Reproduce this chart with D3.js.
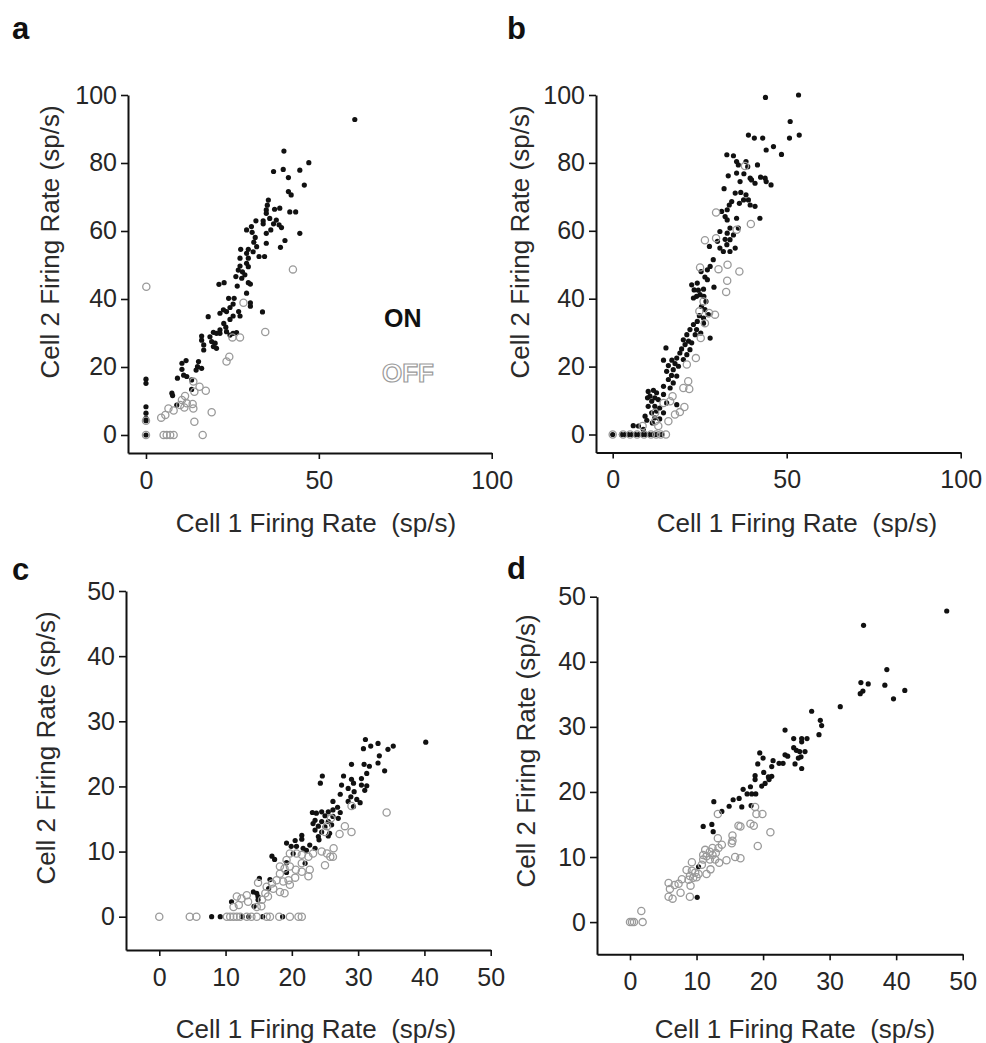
<!DOCTYPE html>
<html><head><meta charset="utf-8">
<script src="https://cdn.jsdelivr.net/npm/d3@7"></script>
<style>body{margin:0;background:#fff} svg{display:block}</style>
</head><body><svg id="chart" width="986" height="1043"></svg>
<script>
// ---------- data (Cell 1 rate, Cell 2 rate) ----------
const aOn = [[60.4,92.8],[39.9,83.5],[47.1,80.1],[36.9,77.5],[39.7,78.1],[44.5,77.9],[41.2,75.7],[45.8,73.5],[41.2,71.6],[42.0,70.6],[35.4,69.1],[35.1,67.6],[34.8,66.2],[34.8,65.2],[37.2,66.4],[38.7,66.7],[41.6,65.6],[43.3,65.6],[31.8,63.0],[33.9,63.0],[35.8,63.7],[37.7,63.2],[36.9,62.1],[38.5,61.8],[39.2,61.0],[33.9,62.1],[36.1,60.3],[34.8,59.3],[29.1,60.3],[30.5,61.3],[30.7,59.6],[44.5,59.3],[40.2,57.2],[38.9,55.2],[34.8,56.4],[31.6,58.1],[31.2,56.7],[32.0,55.4],[29.6,54.6],[27.4,54.6],[29.1,53.4],[31.0,53.9],[32.7,52.5],[34.3,52.5],[27.2,52.0],[29.6,52.0],[29.1,50.5],[27.2,49.7],[29.6,49.5],[26.7,48.5],[27.9,48.0],[28.6,47.1],[26.0,46.6],[27.7,46.1],[29.6,44.8],[30.2,44.4],[21.1,44.3],[22.6,44.8],[26.4,43.8],[29.1,41.7],[30.2,38.9],[30.2,37.9],[33.7,36.2],[23.9,40.2],[25.5,40.2],[25.2,38.5],[24.3,37.5],[23.3,36.3],[21.4,35.8],[22.4,36.8],[26.8,36.3],[25.2,35.0],[27.2,35.0],[24.3,34.0],[18.0,34.8],[22.5,32.8],[23.1,31.7],[21.4,30.9],[19.5,30.2],[20.4,29.9],[21.4,29.9],[23.3,30.4],[25.2,29.9],[26.2,30.1],[24.3,29.4],[16.1,29.1],[16.1,27.9],[18.5,28.9],[19.0,27.5],[20.0,27.0],[16.7,26.5],[19.5,26.0],[20.4,25.5],[16.7,25.0],[11.6,21.9],[10.4,21.1],[15.2,21.6],[10.4,19.3],[10.9,17.6],[11.8,17.2],[14.9,20.1],[16.1,19.6],[14.5,19.1],[9.1,16.7],[13.2,16.2],[13.2,13.4],[7.5,12.3],[7.7,11.6],[8.9,8.8],[0,16.4],[0,15.2],[0,8.3],[0,6.4],[0,4.9],[0,4.2],[0,0]];
const aOff = [[0.1,43.6],[42.5,48.7],[28.2,38.9],[34.5,30.3],[25.0,28.7],[27.2,28.7],[24.1,23.0],[23.3,21.6],[11.3,11.5],[13.7,15.7],[15.5,14.2],[17.3,13.0],[14.0,12.7],[10.4,10.3],[11.8,9.3],[9.9,8.8],[11.1,8.1],[13.5,9.1],[13.7,7.8],[6.5,7.8],[8.0,7.2],[5.6,5.9],[4.4,5.1],[14.0,3.9],[19.0,6.7],[5.1,0],[6.0,0],[7.0,0],[8.0,0],[16.4,0],[0,4.2],[0,0]];

const bOn = [[43.9,99.3],[53.4,100],[51.0,92.2],[50.8,87.3],[53.6,88.2],[39.0,88.2],[40.7,87.3],[43.1,87.3],[44.1,83.8],[46.2,84.8],[48.5,82.5],[32.8,82.4],[34.7,82.1],[35.6,80.4],[38.3,80.4],[36.1,79.4],[38.8,78.9],[41.6,79.4],[33.2,76.2],[35.6,77.0],[37.7,76.8],[39.5,75.5],[40.9,74.0],[42.5,75.8],[43.8,75.5],[44.1,74.5],[45.5,73.5],[39.9,75.0],[36.6,74.5],[32.0,72.4],[35.2,71.1],[36.8,71.3],[38.3,70.6],[37.6,69.1],[36.4,68.1],[39.0,69.1],[39.5,67.6],[34.2,68.6],[33.5,67.6],[40.9,67.2],[42.3,63.7],[31.3,65.7],[32.9,66.2],[32.3,64.2],[35.6,63.7],[32.9,63.2],[36.1,60.8],[33.7,60.8],[30.8,59.8],[32.9,59.3],[34.7,58.8],[32.3,57.5],[33.7,57.4],[30.1,56.9],[32.8,55.9],[30.8,54.9],[35.2,54.9],[31.8,53.9],[33.7,53.9],[27.8,55.4],[28.9,51.5],[28.0,49.5],[27.2,48.5],[25.4,48.0],[26.5,46.4],[27.2,45.6],[29.1,43.4],[22.7,44.1],[24.3,44.6],[23.4,42.6],[24.6,42.5],[26.1,42.8],[25.1,41.2],[24.1,40.7],[26.2,40.7],[23.2,40.2],[26.8,39.2],[25.5,37.7],[26.5,36.8],[27.5,35.3],[24.9,35.0],[26.1,34.3],[24.3,33.3],[26.1,32.8],[23.2,32.4],[22.2,30.9],[24.1,30.9],[23.7,29.4],[25.3,29.9],[28.0,28.4],[21.3,29.4],[20.3,27.9],[21.8,27.5],[22.7,27.0],[20.8,26.5],[19.8,25.2],[22.2,25.0],[15.3,25.5],[19.3,24.0],[21.3,23.5],[18.4,22.5],[14.6,21.9],[17.0,21.9],[20.3,22.1],[17.9,20.9],[16.0,20.3],[18.9,20.1],[17.4,19.1],[15.5,18.6],[16.9,17.4],[18.4,17.2],[16.0,16.2],[17.4,15.2],[14.6,14.2],[16.5,13.7],[11.7,13.0],[10.2,12.7],[12.6,12.3],[10.7,11.3],[14.6,11.8],[12.1,10.8],[13.1,10.3],[10.0,10.8],[11.2,9.8],[15.5,9.3],[18.4,8.8],[12.1,8.3],[13.5,7.8],[10.2,8.3],[12.6,6.9],[11.2,6.4],[14.6,6.4],[9.3,5.4],[12.1,4.9],[9.8,4.2],[13.5,4.6],[11.4,3.4],[5.9,2.6],[7.4,2.5],[8.8,1.5],[0,0],[2.5,0],[3.5,0],[4.5,0],[5.5,0],[6.5,0],[7.5,0],[8.5,0],[9.5,0],[10.5,0],[11.5,0],[12.5,0],[14.1,0]];
const bOff = [[38.0,79.1],[29.7,65.4],[26.5,57.2],[29.7,57.8],[25.1,49.2],[30.4,48.7],[33.0,50.0],[36.4,48.0],[32.9,45.3],[32.6,42.0],[39.7,62.0],[35.6,60.3],[26.1,39.2],[24.9,36.3],[27.7,35.8],[29.4,35.3],[26.5,32.8],[25.3,28.4],[23.9,22.5],[21.3,20.6],[21.7,15.7],[20.3,13.7],[22.0,13.4],[20.6,8.1],[17.9,5.9],[19.3,6.6],[16.0,3.9],[13.1,2.5],[12.2,3.9],[8.6,2.5],[16.5,9.8],[14.6,9.3],[17.2,11.3],[12.2,6.4],[0,0],[3.0,0],[5.0,0],[7.0,0],[9.0,0],[11.0,0],[12.5,0],[13.8,0],[15.3,0]];

const cOn = [[40.2,26.8],[31.1,27.2],[31.9,26.2],[33.0,26.6],[35.3,26.2],[34.5,25.7],[30.8,25.8],[33.2,24.7],[33.0,23.6],[30.9,23.4],[31.7,23.1],[29.0,23.4],[34.0,22.4],[31.3,22.0],[27.8,21.6],[24.6,21.6],[24.3,20.5],[29.0,21.1],[30.5,21.2],[29.3,20.5],[27.5,20.2],[30.5,20.2],[31.3,20.1],[28.5,19.7],[31.0,19.4],[29.4,19.2],[27.3,18.8],[28.9,18.4],[29.8,18.0],[26.2,17.7],[30.3,17.5],[28.5,17.7],[29.3,16.9],[26.9,16.8],[26.2,16.4],[25.5,16.1],[24.5,16.1],[23.1,16.0],[23.7,15.9],[27.3,16.0],[25.0,15.5],[26.2,15.4],[27.0,15.1],[23.5,14.8],[24.5,14.6],[25.5,14.6],[26.0,14.1],[23.2,14.3],[24.0,13.9],[25.0,13.8],[25.7,12.8],[23.5,13.3],[24.5,13.0],[25.5,12.4],[24.0,12.3],[21.5,12.5],[21.5,11.9],[24.1,11.8],[20.5,11.7],[19.2,11.3],[19.9,10.8],[20.7,10.8],[21.7,10.5],[22.7,11.0],[23.5,10.5],[22.2,10.2],[20.2,9.7],[17.0,9.3],[17.4,8.8],[22.0,8.2],[19.2,8.3],[19.2,6.8],[15.1,5.9],[16.7,5.7],[16.5,4.3],[14.2,3.8],[14.7,3.6],[14.9,3.1],[14.9,2.6],[10.9,2.3],[14.3,1.6],[7.9,0],[9.2,0],[12.5,0],[13.5,0],[15.6,0],[18.6,0]];
const cOff = [[34.3,16.0],[29.0,17.0],[28.0,13.9],[29.0,13.0],[27.2,12.7],[25.3,13.9],[25.9,15.1],[25.0,13.0],[26.2,9.2],[25.8,9.2],[25.3,9.7],[24.5,10.0],[25.0,7.9],[23.2,9.7],[22.5,9.2],[21.5,9.5],[20.7,9.7],[19.7,9.7],[21.5,8.2],[22.7,7.2],[22.5,6.2],[21.5,6.9],[20.6,7.2],[19.7,7.7],[18.9,7.4],[18.2,7.7],[19.2,8.7],[18.2,6.6],[20.5,6.0],[19.5,5.6],[18.7,5.4],[17.7,5.6],[17.0,5.1],[16.2,4.6],[17.2,4.3],[18.2,3.8],[18.9,3.6],[19.7,4.9],[16.0,3.6],[16.4,3.1],[14.9,5.2],[15.5,2.6],[13.2,3.3],[12.4,2.8],[11.7,3.1],[12.0,1.8],[13.4,2.3],[14.7,1.5],[15.4,1.6],[11.2,1.5],[26.3,10.5],[0,0],[4.6,0],[5.6,0],[10.2,0],[10.7,0],[11.2,0],[11.7,0],[12.2,0],[13.2,0],[13.9,0],[14.7,0],[16.2,0],[16.7,0],[18.1,0],[19.7,0],[21.0,0],[21.5,0]];

const dOn = [[47.6,47.8],[35.1,45.6],[38.6,38.8],[34.7,36.8],[35.8,36.6],[38.3,36.4],[41.3,35.6],[35.0,35.5],[34.6,35.1],[39.6,34.3],[31.6,33.1],[27.3,32.4],[28.6,31.0],[28.8,30.2],[28.4,28.8],[23.3,29.5],[24.6,28.2],[25.8,28.2],[26.6,28.2],[25.8,27.7],[24.6,26.8],[25.0,26.4],[25.5,26.2],[26.3,26.2],[25.7,25.4],[25.3,25.2],[23.3,25.7],[23.7,25.5],[22.4,24.4],[23.0,24.4],[24.8,24.3],[25.8,23.6],[19.5,26.0],[20.0,25.2],[21.5,24.8],[21.3,23.9],[19.2,24.3],[20.1,23.0],[20.8,22.3],[21.3,22.4],[18.8,22.5],[18.8,21.9],[20.9,21.9],[20.3,21.3],[19.8,20.9],[17.0,20.4],[18.1,20.8],[17.6,19.7],[18.3,19.7],[18.9,19.7],[16.4,19.0],[15.5,18.8],[12.6,18.5],[18.2,17.9],[16.8,17.7],[14.9,17.8],[13.8,17.0],[11.0,14.7],[12.3,15.0],[12.5,13.9],[10.3,8.5],[10.1,3.8]];
const dOff = [[13.2,16.6],[18.8,17.7],[19.0,16.6],[19.9,16.6],[16.3,14.8],[16.6,14.7],[18.1,15.1],[18.6,14.8],[21.1,13.8],[19.2,11.7],[15.4,13.3],[15.4,12.5],[15.3,12.1],[13.2,12.9],[13.8,11.9],[13.3,11.4],[12.4,11.4],[12.0,10.8],[11.3,11.1],[11.0,10.3],[11.5,10.1],[12.4,10.3],[12.9,10.6],[12.8,9.6],[12.0,9.6],[11.0,9.6],[13.4,9.1],[14.5,9.5],[15.8,10.0],[16.6,9.8],[10.8,8.8],[12.1,8.1],[11.5,7.4],[10.3,7.4],[9.3,9.2],[8.5,8.0],[9.3,7.9],[9.8,7.6],[9.0,7.1],[9.5,6.8],[10.0,6.9],[8.8,6.5],[7.8,6.6],[7.3,5.9],[7.6,4.5],[6.7,5.7],[5.8,6.0],[6.0,5.1],[5.8,3.9],[6.4,3.6],[9.1,5.6],[9.0,3.9],[1.7,1.7],[1.9,0],[0,0],[0.3,0],[0.6,0]];

const xTicksAB = [0, 50, 100];
const yTicksAB = [0, 20, 40, 60, 80, 100];
const xTicksCD = [0, 10, 20, 30, 40, 50];
const yTicksCD = [0, 10, 20, 30, 40, 50];
const panelLetters = ["a", "b", "c", "d"];
const legendLabels = ["ON", "OFF"];
const xTitle = "Cell 1 Firing Rate  (sp/s)";
const yTitle = "Cell 2 Firing Rate (sp/s)";

// ---------- layout ----------
const FONT = '"Liberation Sans", Arial, Helvetica, sans-serif';
const svg = d3.select("#chart");
svg.append("rect").attr("width", 986).attr("height", 1043).attr("fill", "#fff");

const panels = [
  {on: aOn, off: aOff, xd: [-5.2, 100], xr: [128, 491.7], yd: [-5.3, 100], yr: [453, 95], xt: xTicksAB, yt: yTicksAB,
   letter: [12, 39], xTitle: [316, 532], yTitle: [59, 242]},
  {on: bOn, off: bOff, xd: [-4.8, 100], xr: [596, 960.7], yd: [-5.3, 100], yr: [452.5, 95], xt: xTicksAB, yt: yTicksAB,
   letter: [507, 39], xTitle: [797, 532], yTitle: [529, 242]},
  {on: cOn, off: cOff, xd: [-5.02, 50], xr: [126, 490.7], yd: [-5.11, 50], yr: [950, 591], xt: xTicksCD, yt: yTicksCD,
   letter: [12, 580], xTitle: [316, 1038], yTitle: [55, 748]},
  {on: dOn, off: dOff, xd: [-4.96, 50], xr: [597, 962.7], yd: [-4.95, 50], yr: [954.3, 596.7], xt: xTicksCD, yt: yTicksCD,
   letter: [507, 579], xTitle: [795, 1038], yTitle: [535, 751]}
];

panels.forEach((p, i) => {
  const x = d3.scaleLinear().domain(p.xd).range(p.xr);
  const y = d3.scaleLinear().domain(p.yd).range(p.yr);
  const g = svg.append("g");

  const xa = g.append("g").attr("transform", `translate(0,${p.yr[0]})`)
    .call(d3.axisBottom(x).tickValues(p.xt).tickSizeInner(6).tickSizeOuter(0).tickPadding(12));
  const ya = g.append("g").attr("transform", `translate(${p.xr[0]},0)`)
    .call(d3.axisLeft(y).tickValues(p.yt).tickSizeInner(7).tickSizeOuter(0).tickPadding(4));
  [xa, ya].forEach(a => {
    a.attr("font-family", FONT).attr("font-size", 25);
    a.select(".domain").attr("stroke", "#111").attr("stroke-width", 2);
    a.selectAll(".tick line").attr("stroke", "#111").attr("stroke-width", 1.6);
    a.selectAll(".tick text").attr("fill", "#262626");
  });

  // ON: filled black dots
  g.append("g").selectAll("circle").data(p.on).join("circle")
    .attr("cx", d => x(d[0])).attr("cy", d => y(d[1])).attr("r", 2.6).attr("fill", "#111");
  // OFF: open gray circles
  g.append("g").selectAll("circle").data(p.off).join("circle")
    .attr("cx", d => x(d[0])).attr("cy", d => y(d[1])).attr("r", 3.6)
    .attr("fill", "none").attr("stroke", "#9a9a9a").attr("stroke-width", 1.3);

  g.append("text").attr("x", p.letter[0]).attr("y", p.letter[1])
    .attr("font-family", FONT).attr("font-weight", "bold").attr("font-size", 31).attr("fill", "#111")
    .text(panelLetters[i]);

  g.append("text").attr("x", p.xTitle[0]).attr("y", p.xTitle[1]).attr("text-anchor", "middle")
    .attr("font-family", FONT).attr("font-size", 26).attr("fill", "#2a2a2a")
    .style("white-space", "pre").text(xTitle);

  g.append("text").attr("transform", `translate(${p.yTitle[0]},${p.yTitle[1]}) rotate(-90)`)
    .attr("text-anchor", "middle")
    .attr("font-family", FONT).attr("font-size", 26).attr("fill", "#2a2a2a")
    .text(yTitle);
});

// legend (panel a)
svg.append("text").attr("x", 384).attr("y", 327).attr("font-family", FONT).attr("font-weight", "bold")
  .attr("font-size", 25).attr("fill", "#111").text(legendLabels[0]);
svg.append("text").attr("x", 382).attr("y", 382).attr("font-family", FONT).attr("font-weight", "bold")
  .attr("font-size", 26).attr("fill", "#fff").attr("stroke", "#9a9a9a").attr("stroke-width", 1.2)
  .text(legendLabels[1]);
</script>
</body></html>
